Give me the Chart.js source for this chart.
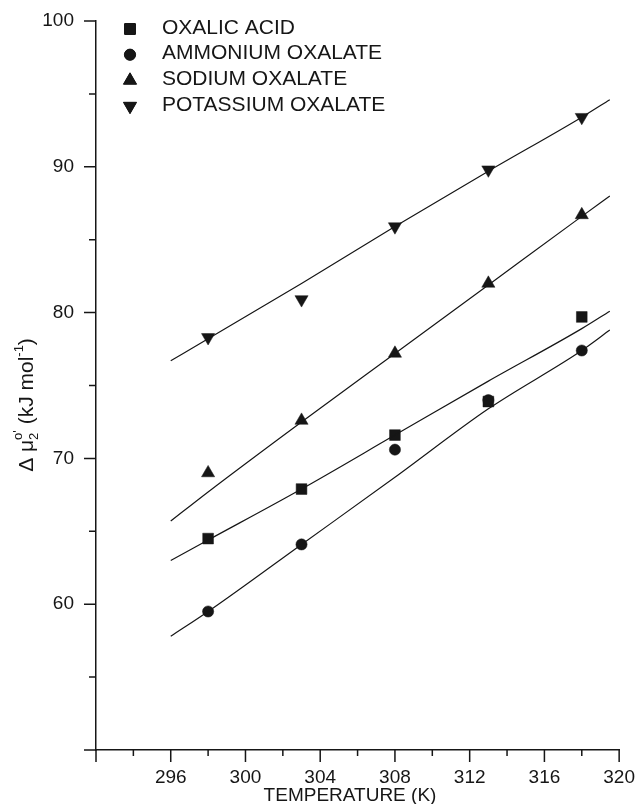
<!DOCTYPE html>
<html lang="en">
<head>
<meta charset="UTF-8">
<title>Delta mu vs temperature</title>
<script src="https://cdn.jsdelivr.net/npm/chart.js"></script>
<style>
  html, body { margin: 0; padding: 0; background: #fff; }
  #wrap { width: 637px; height: 804px; }
</style>
</head>
<body>
<div id="wrap"><canvas id="chart" width="637" height="804"></canvas></div>
<script>
// measured points
const temps = [298, 303, 308, 313, 318];
const oxalicAcid = [64.5, 67.9, 71.6, 73.9, 79.7];
const ammoniumOxalate = [59.5, 64.1, 70.6, 74.0, 77.4];
const sodiumOxalate = [69.0, 72.6, 77.2, 82.0, 86.7];
const potassiumOxalate = [78.3, 80.9, 85.9, 89.8, 93.4];

// fitted curves
const fitTemps = [296, 298, 303, 308, 313, 318, 319.5];
const oxalicFit = [63.0, 64.4, 67.9, 71.6, 75.3, 78.9, 80.1];
const ammoniumFit = [57.8, 59.5, 64.1, 68.7, 73.4, 77.4, 78.8];
const sodiumFit = [65.7, 67.7, 72.5, 77.2, 81.9, 86.6, 88.0];
const potassiumFit = [76.7, 78.2, 82.0, 85.9, 89.7, 93.4, 94.6];

const seriesNames = ['OXALIC ACID', 'AMMONIUM OXALATE', 'SODIUM OXALATE', 'POTASSIUM OXALATE'];
const xTickLabels = ['296', '300', '304', '308', '312', '316', '320'];
const yTickLabels = ['60', '70', '80', '90', '100'];

const FONT = "'Liberation Sans', Arial, sans-serif";
const INK = '#161616';

const toXY = (xs, ys) => xs.map((x, i) => ({ x: x, y: ys[i] }));

const markers = [
  { style: 'rect', radius: 7.6, rotation: 0 },
  { style: 'circle', radius: 5.6, rotation: 0 },
  { style: 'triangle', radius: 7.6, rotation: 0 },
  { style: 'triangle', radius: 7.6, rotation: 180 }
];

const pointSets = [oxalicAcid, ammoniumOxalate, sodiumOxalate, potassiumOxalate];
const fitSets = [oxalicFit, ammoniumFit, sodiumFit, potassiumFit];

const datasets = [];
fitSets.forEach(function (fit) {
  datasets.push({
    type: 'line',
    data: toXY(fitTemps, fit),
    borderColor: INK,
    borderWidth: 1.2,
    pointRadius: 0,
    fill: false,
    cubicInterpolationMode: 'monotone'
  });
});
pointSets.forEach(function (vals, i) {
  datasets.push({
    type: 'scatter',
    label: seriesNames[i],
    data: toXY(temps, vals),
    showLine: false,
    pointStyle: markers[i].style,
    pointRadius: markers[i].radius,
    pointRotation: markers[i].rotation,
    pointBackgroundColor: INK,
    pointBorderColor: INK,
    pointBorderWidth: 0.5
  });
});

// major + minor tick marks drawn outward from both axes
const tickMarks = {
  id: 'tickMarks',
  afterDraw(chart) {
    const ctx = chart.ctx;
    const xs = chart.scales.x, ys = chart.scales.y;
    const x0 = xs.left, y0 = ys.bottom;
    ctx.save();
    ctx.strokeStyle = INK;
    ctx.lineWidth = 1.5;
    ctx.beginPath();
    for (let v = xs.min; v <= xs.max + 0.001; v += 2) {
      const px = xs.getPixelForValue(v);
      const len = (v % 4 === 0) ? 12 : 6;
      ctx.moveTo(px, y0);
      ctx.lineTo(px, y0 + len);
    }
    for (let v = ys.min; v <= ys.max + 0.001; v += 5) {
      const py = ys.getPixelForValue(v);
      const len = (v % 10 === 0) ? 12 : 7;
      ctx.moveTo(x0, py);
      ctx.lineTo(x0 - len, py);
    }
    ctx.stroke();
    ctx.restore();
  }
};

// legend in the upper left of the plot
const cornerLegend = {
  id: 'cornerLegend',
  afterDraw(chart) {
    const ctx = chart.ctx;
    ctx.save();
    ctx.font = '21px ' + FONT;
    ctx.fillStyle = INK;
    ctx.textBaseline = 'middle';
    seriesNames.forEach(function (name, i) {
      const y = 29 + i * 25.7;
      Chart.helpers.drawPoint(ctx, {
        pointStyle: markers[i].style,
        radius: markers[i].radius,
        rotation: markers[i].rotation,
        borderWidth: 0.5
      }, 130, y);
      ctx.fillStyle = INK;
      ctx.strokeStyle = INK;
      ctx.fill();
      ctx.fillText(name, 162, y - 1);
    });
    ctx.restore();
  }
};

// axis titles with sub/superscripts
const axisTitles = {
  id: 'axisTitles',
  afterDraw(chart) {
    const ctx = chart.ctx;
    ctx.save();
    ctx.fillStyle = INK;
    ctx.textBaseline = 'alphabetic';
    ctx.textAlign = 'center';
    ctx.font = '19px ' + FONT;
    ctx.fillText('TEMPERATURE (K)', 350, 801);

    const parts = [
      { t: '\u0394 \u03bc', s: 21, dy: 0 },
      { t: '2', s: 13, dy: 5, keep: true },
      { t: "o'", s: 13, dy: -11 },
      { t: ' (kJ mol', s: 21, dy: 0 },
      { t: '-1', s: 13, dy: -10 },
      { t: ')', s: 21, dy: 0 }
    ];
    let total = 0;
    parts.forEach(function (p) {
      ctx.font = p.s + 'px ' + FONT;
      p.w = ctx.measureText(p.t).width;
      if (!p.keep) total += p.w;
    });
    ctx.translate(33, 405);
    ctx.rotate(-Math.PI / 2);
    ctx.textAlign = 'left';
    let x = -total / 2;
    parts.forEach(function (p) {
      ctx.font = p.s + 'px ' + FONT;
      ctx.fillText(p.t, x, p.dy);
      if (!p.keep) x += p.w;
    });
    ctx.restore();
  }
};

new Chart(document.getElementById('chart'), {
  type: 'scatter',
  data: { datasets: datasets },
  options: {
    responsive: false,
    animation: false,
    layout: { padding: { top: 21, right: 17, left: 0, bottom: 0 } },
    plugins: {
      legend: { display: false },
      tooltip: { enabled: false }
    },
    scales: {
      x: {
        type: 'linear',
        min: 292,
        max: 320,
        afterFit: function (s) { s.height = 54; },
        grid: { display: false, drawTicks: true, tickLength: 14 },
        border: { display: true, color: INK, width: 1.5 },
        ticks: {
          stepSize: 4,
          autoSkip: false,
          maxRotation: 0,
          padding: 2,
          color: INK,
          font: { family: FONT, size: 19 },
          callback: function (v) {
            const s = String(v);
            return xTickLabels.indexOf(s) >= 0 ? s : '';
          }
        }
      },
      y: {
        type: 'linear',
        min: 50,
        max: 100,
        afterFit: function (s) { s.width = 96; },
        grid: { display: false, drawTicks: true, tickLength: 20 },
        border: { display: true, color: INK, width: 1.5 },
        ticks: {
          stepSize: 10,
          autoSkip: false,
          padding: 2,
          color: INK,
          font: { family: FONT, size: 19 },
          callback: function (v) {
            const s = String(v);
            return yTickLabels.indexOf(s) >= 0 ? s : '';
          }
        }
      }
    }
  },
  plugins: [tickMarks, cornerLegend, axisTitles]
});
</script>
</body>
</html>
